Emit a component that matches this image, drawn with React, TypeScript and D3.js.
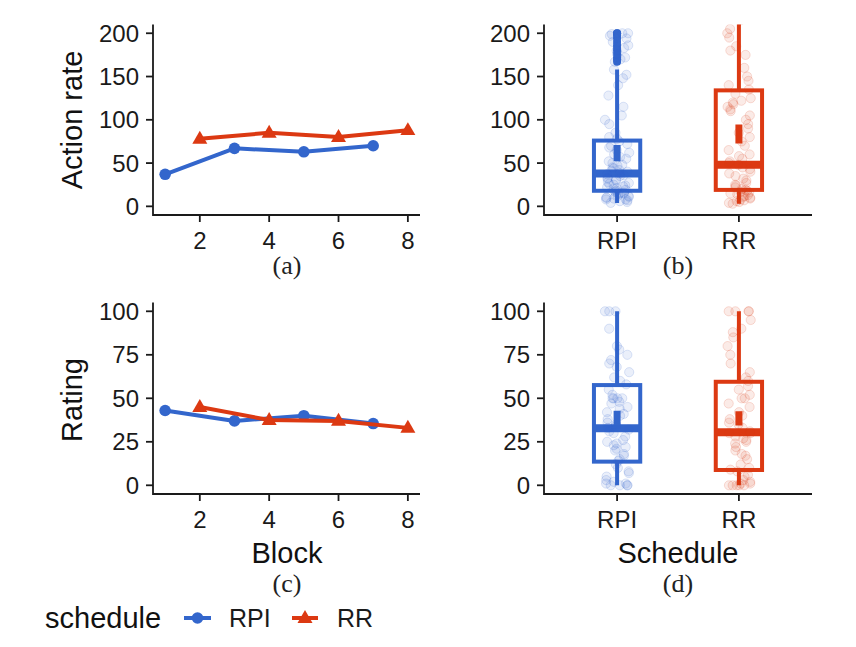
import React from "react";
import * as d3 from "d3";

// ---------- data ----------
const blocksRPI = [1, 3, 5, 7];
const blocksRR = [2, 4, 6, 8];
const actionLineRPI = [37, 67, 63, 70];
const actionLineRR = [78, 85, 80, 88];
const ratingLineRPI = [43, 37, 40, 35.5];
const ratingLineRR = [45, 37.5, 37, 33];

const blockTicks = [2, 4, 6, 8];
const actionTicks = [0, 50, 100, 150, 200];
const ratingTicks = [0, 25, 50, 75, 100];
const schedules = ["RPI", "RR"];

// box statistics per schedule [RPI, RR]
const actionLo = [4, 3];
const actionQ1 = [18, 19];
const actionMed = [38, 48];
const actionQ3 = [76, 134];
const actionHi = [158, 240];
const actionMean = [61.5, 83.5];
const actionSE = [9.5, 11];

const ratingLo = [0, 0];
const ratingQ1 = [13.6, 8.8];
const ratingMed = [32.8, 30.5];
const ratingQ3 = [57.6, 59.5];
const ratingHi = [100, 100];
const ratingMean = [38.8, 38.4];
const ratingSE = [4.1, 4.1];

// raw observations (jittered points)
const actionObsRPI = [4, 5, 6, 7, 8, 8, 9, 10, 10, 11, 12, 12, 13, 14, 15, 15, 16, 17, 18, 19, 20, 21, 22, 23, 24, 25, 26, 27, 28, 30, 31, 32, 33, 35, 36, 37, 38, 40, 41, 42, 44, 45, 47, 48, 50, 52, 55, 57, 60, 62, 65, 68, 70, 72, 75, 78, 80, 85, 95, 100, 105, 115, 128, 140, 148, 152, 158, 167, 170, 172, 176, 180, 183, 186, 190, 194, 197, 199, 200, 200];
const actionObsRR = [3, 4, 5, 6, 7, 8, 9, 10, 11, 12, 13, 14, 15, 16, 17, 18, 19, 20, 22, 24, 25, 27, 30, 32, 35, 38, 40, 43, 45, 48, 50, 52, 55, 58, 60, 65, 70, 75, 80, 85, 90, 95, 100, 105, 110, 112, 115, 118, 120, 122, 125, 130, 135, 140, 145, 150, 160, 175, 180, 185, 195, 200, 205, 215, 240];
const ratingObsRPI = [0, 0, 0, 0, 1, 1, 2, 3, 5, 7, 8, 10, 12, 14, 15, 17, 18, 20, 21, 22, 23, 24, 25, 26, 28, 30, 31, 32, 33, 34, 35, 36, 38, 40, 41, 42, 44, 45, 47, 48, 50, 50, 50, 50, 52, 55, 58, 60, 62, 65, 68, 70, 72, 75, 78, 80, 90, 100, 100, 100];
const ratingObsRR = [0, 0, 0, 0, 0, 1, 1, 2, 3, 5, 6, 8, 9, 10, 12, 15, 17, 18, 20, 22, 24, 25, 26, 27, 28, 30, 30, 31, 33, 35, 36, 38, 40, 42, 45, 47, 50, 50, 52, 55, 57, 60, 62, 65, 70, 75, 80, 85, 88, 90, 95, 100, 100, 100, 100];

// ---------- style ----------
const BLUE = "#3366CC";
const RED = "#DC3912";
const AXIS = "#1a1a1a";
const SANS = "'Liberation Sans', Arial, sans-serif";
const SERIF = "'Liberation Serif', 'Times New Roman', serif";
const TICK_FS = 24;
const TITLE_FS = 29;
const CAP_FS = 26;

const LX0 = 153, LX1 = 420, RX0 = 544, RX1 = 812;
const TOP_Y0 = 24.6, TOP_Y1 = 215;
const BOT_Y0 = 302.6, BOT_Y1 = 494;

const xBlock = d3.scaleLinear().domain([0.65, 8.35]).range([LX0, LX1]);
const xSched = d3.scaleLinear().domain([0.4, 2.6]).range([RX0, RX1]);
const yAction = d3.scaleLinear().domain([-10, 210]).range([TOP_Y1, TOP_Y0]);
const yRating = d3.scaleLinear().domain([-5, 105]).range([BOT_Y1, BOT_Y0]);

function Axes({ x0, x1, y0, y1, xTicks, yTicks, xs, ys, xLabels }: any) {
  return (
    <g>
      <path d={`M${x0},${y0}V${y1}H${x1}`} fill="none" stroke={AXIS} strokeWidth={1.8} />
      {yTicks.map((t: number) => (
        <g key={"y" + t}>
          <line x1={x0 - 7} x2={x0} y1={ys(t)} y2={ys(t)} stroke={AXIS} strokeWidth={1.8} />
          <text x={x0 - 14} y={ys(t)} dy="0.36em" textAnchor="end" fontFamily={SANS} fontSize={TICK_FS} fill="#1a1a1a">{t}</text>
        </g>
      ))}
      {xTicks.map((t: number, i: number) => (
        <g key={"x" + t}>
          <line x1={xs(t)} x2={xs(t)} y1={y1} y2={y1 + 7} stroke={AXIS} strokeWidth={1.8} />
          <text x={xs(t)} y={y1 + 25} dy="0.36em" textAnchor="middle" fontFamily={SANS} fontSize={TICK_FS} fill="#1a1a1a">{xLabels ? xLabels[i] : t}</text>
        </g>
      ))}
    </g>
  );
}

function tri(cx: number, cy: number, s: number) {
  const h = s * 0.866;
  return `M${cx},${cy - h * 0.62}L${cx + s / 2},${cy + h * 0.38}L${cx - s / 2},${cy + h * 0.38}Z`;
}

function LinePanel({ ys, rpi, rr }: any) {
  const line = d3.line<[number, number]>().x((d) => xBlock(d[0])).y((d) => ys(d[1]));
  const pR = blocksRPI.map((b, i) => [b, rpi[i]] as [number, number]);
  const pRR = blocksRR.map((b, i) => [b, rr[i]] as [number, number]);
  return (
    <g>
      <path d={line(pR) || ""} fill="none" stroke={BLUE} strokeWidth={4} strokeLinejoin="round" />
      {pR.map((p, i) => <circle key={i} cx={xBlock(p[0])} cy={ys(p[1])} r={5.8} fill={BLUE} />)}
      <path d={line(pRR) || ""} fill="none" stroke={RED} strokeWidth={4} strokeLinejoin="round" />
      {pRR.map((p, i) => <path key={i} d={tri(xBlock(p[0]), ys(p[1]), 15)} fill={RED} />)}
    </g>
  );
}

function jitterOffsets(n: number, seed: number) {
  const rnd = d3.randomUniform.source(d3.randomLcg(seed))(-0.1, 0.1);
  return d3.range(n).map(() => rnd());
}

function BoxPanel({ ys, lo, q1, med, q3, hi, mean, se, obs, clipId, y0, y1 }: any) {
  const colors = [BLUE, RED];
  const half = 0.19;
  return (
    <g>
      <defs>
        <clipPath id={clipId}><rect x={RX0} y={y0} width={RX1 - RX0} height={y1 - y0} /></clipPath>
      </defs>
      <g clipPath={`url(#${clipId})`}>
        {schedules.map((s, i) => {
          const c = colors[i];
          const cx = xSched(i + 1);
          const xl = xSched(i + 1 - half), xr = xSched(i + 1 + half);
          const jit = jitterOffsets(obs[i].length, 7 + i * 13);
          return (
            <g key={s}>
              <line x1={cx} x2={cx} y1={ys(q3[i])} y2={ys(hi[i])} stroke={c} strokeWidth={4} />
              <line x1={cx} x2={cx} y1={ys(q1[i])} y2={ys(lo[i])} stroke={c} strokeWidth={4} />
              <rect x={xl} y={ys(q3[i])} width={xr - xl} height={ys(q1[i]) - ys(q3[i])} fill="white" stroke={c} strokeWidth={4} />
              <line x1={xl} x2={xr} y1={ys(med[i])} y2={ys(med[i])} stroke={c} strokeWidth={8} />
              {obs[i].filter((v: number) => v > hi[i]).map((v: number, k: number) => (
                <circle key={"o" + k} cx={cx} cy={ys(v)} r={4} fill={c} />
              ))}
              {obs[i].map((v: number, k: number) => (
                <circle key={k} cx={xSched(i + 1 + jit[k])} cy={ys(v)} r={4.6} fill={c} fillOpacity={0.1} stroke={c} strokeOpacity={0.16} strokeWidth={1} />
              ))}
              <line x1={cx} x2={cx} y1={ys(mean[i] - se[i])} y2={ys(mean[i] + se[i])} stroke={c} strokeWidth={7} />
            </g>
          );
        })}
      </g>
    </g>
  );
}

export default function App() {
  const capStyle = { fontFamily: SERIF, fontSize: CAP_FS, fill: "#222" } as any;
  const titleStyle = { fontFamily: SANS, fontSize: TITLE_FS, fill: "#111" } as any;
  return (
    <svg width={856} height={647} style={{ position: "absolute", left: 0, top: 0, background: "white" }}>
      {/* (a) */}
      <LinePanel ys={yAction} rpi={actionLineRPI} rr={actionLineRR} />
      <Axes x0={LX0} x1={LX1} y0={TOP_Y0} y1={TOP_Y1} xTicks={blockTicks} yTicks={actionTicks} xs={xBlock} ys={yAction} />
      <text transform={`translate(82,120) rotate(-90)`} textAnchor="middle" style={titleStyle}>Action rate</text>
      <text x={287} y={274} textAnchor="middle" style={capStyle}>(a)</text>

      {/* (b) */}
      <BoxPanel ys={yAction} lo={actionLo} q1={actionQ1} med={actionMed} q3={actionQ3} hi={actionHi} mean={actionMean} se={actionSE} obs={[actionObsRPI, actionObsRR]} clipId="clipB" y0={TOP_Y0} y1={TOP_Y1} />
      <Axes x0={RX0} x1={RX1} y0={TOP_Y0} y1={TOP_Y1} xTicks={[1, 2]} xLabels={schedules} yTicks={actionTicks} xs={xSched} ys={yAction} />
      <text x={678} y={274} textAnchor="middle" style={capStyle}>(b)</text>

      {/* (c) */}
      <LinePanel ys={yRating} rpi={ratingLineRPI} rr={ratingLineRR} />
      <Axes x0={LX0} x1={LX1} y0={BOT_Y0} y1={BOT_Y1} xTicks={blockTicks} yTicks={ratingTicks} xs={xBlock} ys={yRating} />
      <text transform={`translate(82,400) rotate(-90)`} textAnchor="middle" style={titleStyle}>Rating</text>
      <text x={287} y={563} textAnchor="middle" style={titleStyle}>Block</text>
      <text x={287} y={592} textAnchor="middle" style={capStyle}>(c)</text>

      {/* (d) */}
      <BoxPanel ys={yRating} lo={ratingLo} q1={ratingQ1} med={ratingMed} q3={ratingQ3} hi={ratingHi} mean={ratingMean} se={ratingSE} obs={[ratingObsRPI, ratingObsRR]} clipId="clipD" y0={BOT_Y0} y1={BOT_Y1} />
      <Axes x0={RX0} x1={RX1} y0={BOT_Y0} y1={BOT_Y1} xTicks={[1, 2]} xLabels={schedules} yTicks={ratingTicks} xs={xSched} ys={yRating} />
      <text x={678} y={563} textAnchor="middle" style={titleStyle}>Schedule</text>
      <text x={678} y={592} textAnchor="middle" style={capStyle}>(d)</text>

      {/* legend */}
      <text x={45} y={628} style={titleStyle}>schedule</text>
      <line x1={184} x2={211} y1={618} y2={618} stroke={BLUE} strokeWidth={4} />
      <circle cx={197.5} cy={618} r={5.8} fill={BLUE} />
      <text x={229} y={627} fontFamily={SANS} fontSize={25} fill="#1a1a1a">RPI</text>
      <line x1={292} x2={318} y1={618} y2={618} stroke={RED} strokeWidth={4} />
      <path d={tri(305, 618, 15)} fill={RED} />
      <text x={337} y={627} fontFamily={SANS} fontSize={25} fill="#1a1a1a">RR</text>
    </svg>
  );
}
